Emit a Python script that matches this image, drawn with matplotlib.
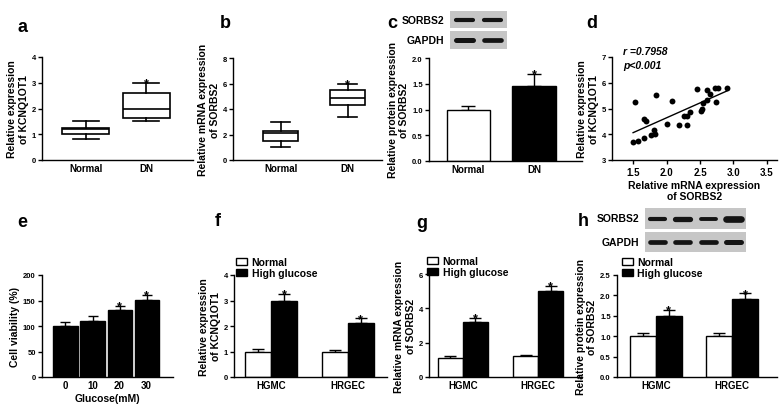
import numpy as np
import matplotlib
matplotlib.use("Agg")
import matplotlib.pyplot as plt
from matplotlib.patches import Patch

plt.rcParams['font.family'] = ['Liberation Sans', 'DejaVu Sans']
plt.rcParams['font.weight'] = 'bold'
plt.rcParams['axes.labelweight'] = 'bold'
plt.rcParams['axes.linewidth'] = 1.0

# ---- data ----
dn_groups = ['Normal', 'DN']
# box stats: whisker low, q1, median, q3, whisker high
kcnq_normal = [0.8, 1.0, 1.22, 1.25, 1.5]
kcnq_dn = [1.5, 1.65, 2.0, 2.6, 3.0]
sorbs_normal = [1.0, 1.5, 2.1, 2.3, 3.0]
sorbs_dn = [3.4, 4.3, 4.9, 5.5, 6.0]

prot_mean = [1.0, 1.46]
prot_err = [0.06, 0.23]

# correlation scatter (d)
mrna_sorbs2 = [1.50, 1.575, 1.525, 1.66, 1.665, 1.69, 1.775, 1.81, 1.83, 1.835,
               2.01, 2.085, 2.19, 2.26, 2.30, 2.305, 2.35, 2.46, 2.515, 2.53,
               2.55, 2.61, 2.61, 2.65, 2.725, 2.77, 2.74, 2.90]
expr_kcnq = [3.69, 3.73, 5.27, 3.86, 4.58, 4.51, 3.97, 4.18, 4.00, 5.52,
             4.39, 5.29, 4.36, 4.71, 4.71, 4.36, 4.87, 5.75, 4.91, 4.99,
             5.21, 5.34, 5.73, 5.57, 5.79, 5.79, 5.27, 5.81]

glucose = ['0', '10', '20', '30']
viability = [100, 110, 131, 151]
viability_err = [7, 9, 8, 10]

cells = ['HGMC', 'HRGEC']
f_normal, f_normal_err = [1.0, 1.0], [0.11, 0.07]
f_high, f_high_err = [3.0, 2.1], [0.27, 0.2]
g_normal, g_normal_err = [1.1, 1.2], [0.1, 0.1]
g_high, g_high_err = [3.2, 5.0], [0.25, 0.3]
h_normal, h_normal_err = [1.0, 1.0], [0.08, 0.09]
h_high, h_high_err = [1.5, 1.9], [0.14, 0.15]

# blot band thickness (points)
blot_c_sorbs2 = [3.0, 3.0]
blot_c_gapdh = [3.6, 3.4]
blot_h_sorbs2 = [3.0, 3.8, 2.8, 4.8]
blot_h_gapdh = [3.4, 3.4, 3.4, 3.6]

W, H = 784, 410
fig = plt.figure(figsize=(W / 100, H / 100), dpi=100)


def rect(l, r, t, b):
    return [l / W, 1 - b / H, (r - l) / W, (b - t) / H]


def style(ax, yticks, fmt='{:g}', xtick_len=0):
    for s in ['top', 'right']:
        ax.spines[s].set_visible(False)
    ax.set_yticks(yticks)
    ax.set_yticklabels([fmt.format(v) for v in yticks], fontsize=5.5)
    ax.set_ylim(yticks[0], yticks[-1])
    ax.tick_params(axis='y', length=3, width=1, pad=1.5)
    ax.tick_params(axis='x', length=xtick_len, width=1, labelsize=7, pad=2)


def star(ax, x, y):
    ax.annotate('*', (x, y), xytext=(0, -2.5), textcoords='offset points',
                ha='center', va='baseline', fontsize=9, weight='bold')


def panel_letter(x, y, s):
    fig.text(x / W, 1 - y / H, s, fontsize=13, weight='bold', ha='center', va='center')


def boxes(ax, data, w):
    stats = [dict(whislo=d[0], q1=d[1], med=d[2], q3=d[3], whishi=d[4], fliers=[]) for d in data]
    ax.bxp(stats, positions=range(len(data)), widths=w, showfliers=False, patch_artist=True,
           boxprops=dict(facecolor='white', edgecolor='black', linewidth=1.2),
           medianprops=dict(color='black', linewidth=1.2),
           whiskerprops=dict(color='black', linewidth=1.2),
           capprops=dict(color='black', linewidth=1.2), capwidths=w * 0.55)
    for i, d in enumerate(data[1:], start=1):
        star(ax, i, d[4])


def grouped(ax, normal, nerr, high, herr, w):
    x = np.arange(len(cells))
    ax.bar(x - w / 2, normal, w, color='white', edgecolor='black', linewidth=1, zorder=2)
    ax.bar(x + w / 2, high, w, color='black', edgecolor='black', linewidth=1, zorder=2)
    ax.errorbar(x - w / 2, normal, yerr=[np.zeros(len(x)), nerr], fmt='none', ecolor='black',
                elinewidth=1, capsize=4, capthick=1, zorder=1)
    ax.errorbar(x + w / 2, high, yerr=[np.zeros(len(x)), herr], fmt='none', ecolor='black',
                elinewidth=1, capsize=4, capthick=1, zorder=1)
    for xi, v, e in zip(x, high, herr):
        star(ax, xi + w / 2, v + e)
    ax.set_xticks(x)
    ax.set_xticklabels(cells)


def legend(ax, x):
    handles = [Patch(facecolor='white', edgecolor='black', linewidth=1, label='Normal'),
               Patch(facecolor='black', edgecolor='black', linewidth=1, label='High glucose')]
    ax.legend(handles=handles, loc='lower left', bbox_to_anchor=(x, 0.97), frameon=False,
              fontsize=7.5, borderpad=0, borderaxespad=0, handlelength=1.1, handleheight=0.75,
              handletextpad=0.4, labelspacing=0.1)


def blot(l, r, t, b, bands, label, label_x):
    bax = fig.add_axes(rect(l, r, t, b))
    bax.set_facecolor('#c6c6c6')
    for i, lw in enumerate(bands):
        bax.plot([i + 0.5 - 0.3, i + 0.5 + 0.3], [0.5, 0.5], color='#141414', lw=lw,
                 solid_capstyle='round')
    bax.set_xlim(0, len(bands))
    bax.set_ylim(0, 1)
    bax.set_xticks([])
    bax.set_yticks([])
    for s in bax.spines.values():
        s.set_visible(False)
    fig.text(label_x / W, 1 - (t + b) / 2 / H, label, ha='right', va='center',
             fontsize=7.5, weight='bold')


# ---- a ----
ax = fig.add_axes(rect(42, 193, 58, 161))
boxes(ax, [kcnq_normal, kcnq_dn], 0.78)
ax.set_xlim(-0.73, 1.78)
ax.set_xticks([0, 1])
ax.set_xticklabels(dn_groups)
style(ax, [0, 1, 2, 3, 4])
ax.set_ylabel('Relative expression\nof KCNQ1OT1', fontsize=7.5, labelpad=2)
panel_letter(23, 27, 'a')

# ---- b ----
ax = fig.add_axes(rect(233, 382, 59, 161))
boxes(ax, [sorbs_normal, sorbs_dn], 0.52)
ax.set_xlim(-0.71, 1.51)
ax.set_xticks([0, 1])
ax.set_xticklabels(dn_groups)
style(ax, [0, 2, 4, 6, 8])
ax.set_ylabel('Relative mRNA expression\nof SORBS2', fontsize=7.5, labelpad=2)
panel_letter(225, 24, 'b')

# ---- c ----
ax = fig.add_axes(rect(429, 582, 59, 162))
xc = np.arange(2)
ax.bar(xc, prot_mean, 0.66, color=['white', 'black'], edgecolor='black', linewidth=1, zorder=2)
ax.errorbar(xc, prot_mean, yerr=[np.zeros(2), prot_err], fmt='none', ecolor='black',
            elinewidth=1, capsize=5, capthick=1, zorder=1)
star(ax, 1, prot_mean[1] + prot_err[1])
ax.set_xlim(-0.6, 1.73)
ax.set_xticks(xc)
ax.set_xticklabels(dn_groups)
style(ax, [0, 0.5, 1.0, 1.5, 2.0], '{:.1f}')
ax.set_ylabel('Relative protein expression\nof SORBS2', fontsize=7.5, labelpad=2)
blot(450, 507, 12, 29, blot_c_sorbs2, 'SORBS2', 444)
blot(450, 507, 32, 50, blot_c_gapdh, 'GAPDH', 444)
panel_letter(392, 24, 'c')

# ---- d ----
ax = fig.add_axes(rect(612, 777, 58, 161))
ax.scatter(mrna_sorbs2, expr_kcnq, s=18, color='black', zorder=3, linewidths=0)
k, c0 = np.polyfit(mrna_sorbs2, expr_kcnq, 1)
xl = np.array([min(mrna_sorbs2), max(mrna_sorbs2)])
ax.plot(xl, k * xl + c0, color='black', lw=1)
style(ax, [3, 4, 5, 6, 7], xtick_len=3)
ax.set_xlim(1.185, 3.65)
ax.set_xticks([1.5, 2.0, 2.5, 3.0, 3.5])
ax.set_xticklabels(['1.5', '2.0', '2.5', '3.0', '3.5'])
ax.set_xlabel('Relative mRNA expression\nof SORBS2', fontsize=7.5, labelpad=2)
ax.set_ylabel('Relative expression\nof KCNQ1OT1', fontsize=7.5, labelpad=2)
ax.text(0.067, 1.058, 'r =0.7958', transform=ax.transAxes, fontsize=7.5, style='italic',
        weight='bold', va='center')
ax.text(0.067, 0.925, 'p<0.001', transform=ax.transAxes, fontsize=7.5, style='italic',
        weight='bold', va='center')
panel_letter(592, 24, 'd')

# ---- e ----
ax = fig.add_axes(rect(42, 173, 276, 378))
xe = np.arange(len(glucose))
ax.bar(xe, viability, 0.89, color='black', edgecolor='black', linewidth=1, zorder=2)
ax.errorbar(xe, viability, yerr=[np.zeros(len(xe)), viability_err], fmt='none', ecolor='black',
            elinewidth=1, capsize=3.6, capthick=1, zorder=1)
for i in [2, 3]:
    star(ax, i, viability[i] + viability_err[i])
ax.set_xlim(-0.87, 3.98)
ax.set_xticks(xe)
ax.set_xticklabels(glucose)
style(ax, [0, 50, 100, 150, 200])
ax.set_xlabel('Glucose(mM)', fontsize=7.5, labelpad=2)
ax.set_ylabel('Cell viability (%)', fontsize=7.5, labelpad=2)
panel_letter(22, 223, 'e')

# ---- f ----
ax = fig.add_axes(rect(234, 387, 276, 378))
grouped(ax, f_normal, f_normal_err, f_high, f_high_err, 0.34)
ax.set_xlim(-0.48, 1.51)
style(ax, [0, 1, 2, 3, 4])
ax.set_ylabel('Relative expression\nof KCNQ1OT1', fontsize=7.5, labelpad=2)
legend(ax, 0.013)
panel_letter(218, 222, 'f')

# ---- g ----
ax = fig.add_axes(rect(429, 582, 275, 378))
grouped(ax, g_normal, g_normal_err, g_high, g_high_err, 0.33)
ax.set_xlim(-0.45, 1.58)
style(ax, [0, 2, 4, 6])
ax.set_ylabel('Relative mRNA expression\nof SORBS2', fontsize=7.5, labelpad=2)
legend(ax, -0.013)
panel_letter(422, 224, 'g')

# ---- h ----
ax = fig.add_axes(rect(617, 777, 276, 378))
grouped(ax, h_normal, h_normal_err, h_high, h_high_err, 0.34)
ax.set_xlim(-0.51, 1.59)
style(ax, [0, 0.5, 1.0, 1.5, 2.0, 2.5], '{:.1f}')
ax.set_ylabel('Relative protein expression\nof SORBS2', fontsize=7.5, labelpad=2)
legend(ax, 0.03)
blot(645, 746, 209, 230, blot_h_sorbs2, 'SORBS2', 639)
blot(645, 746, 233, 253, blot_h_gapdh, 'GAPDH', 639)
panel_letter(583, 222, 'h')

fig.savefig('out.png', dpi=100)
